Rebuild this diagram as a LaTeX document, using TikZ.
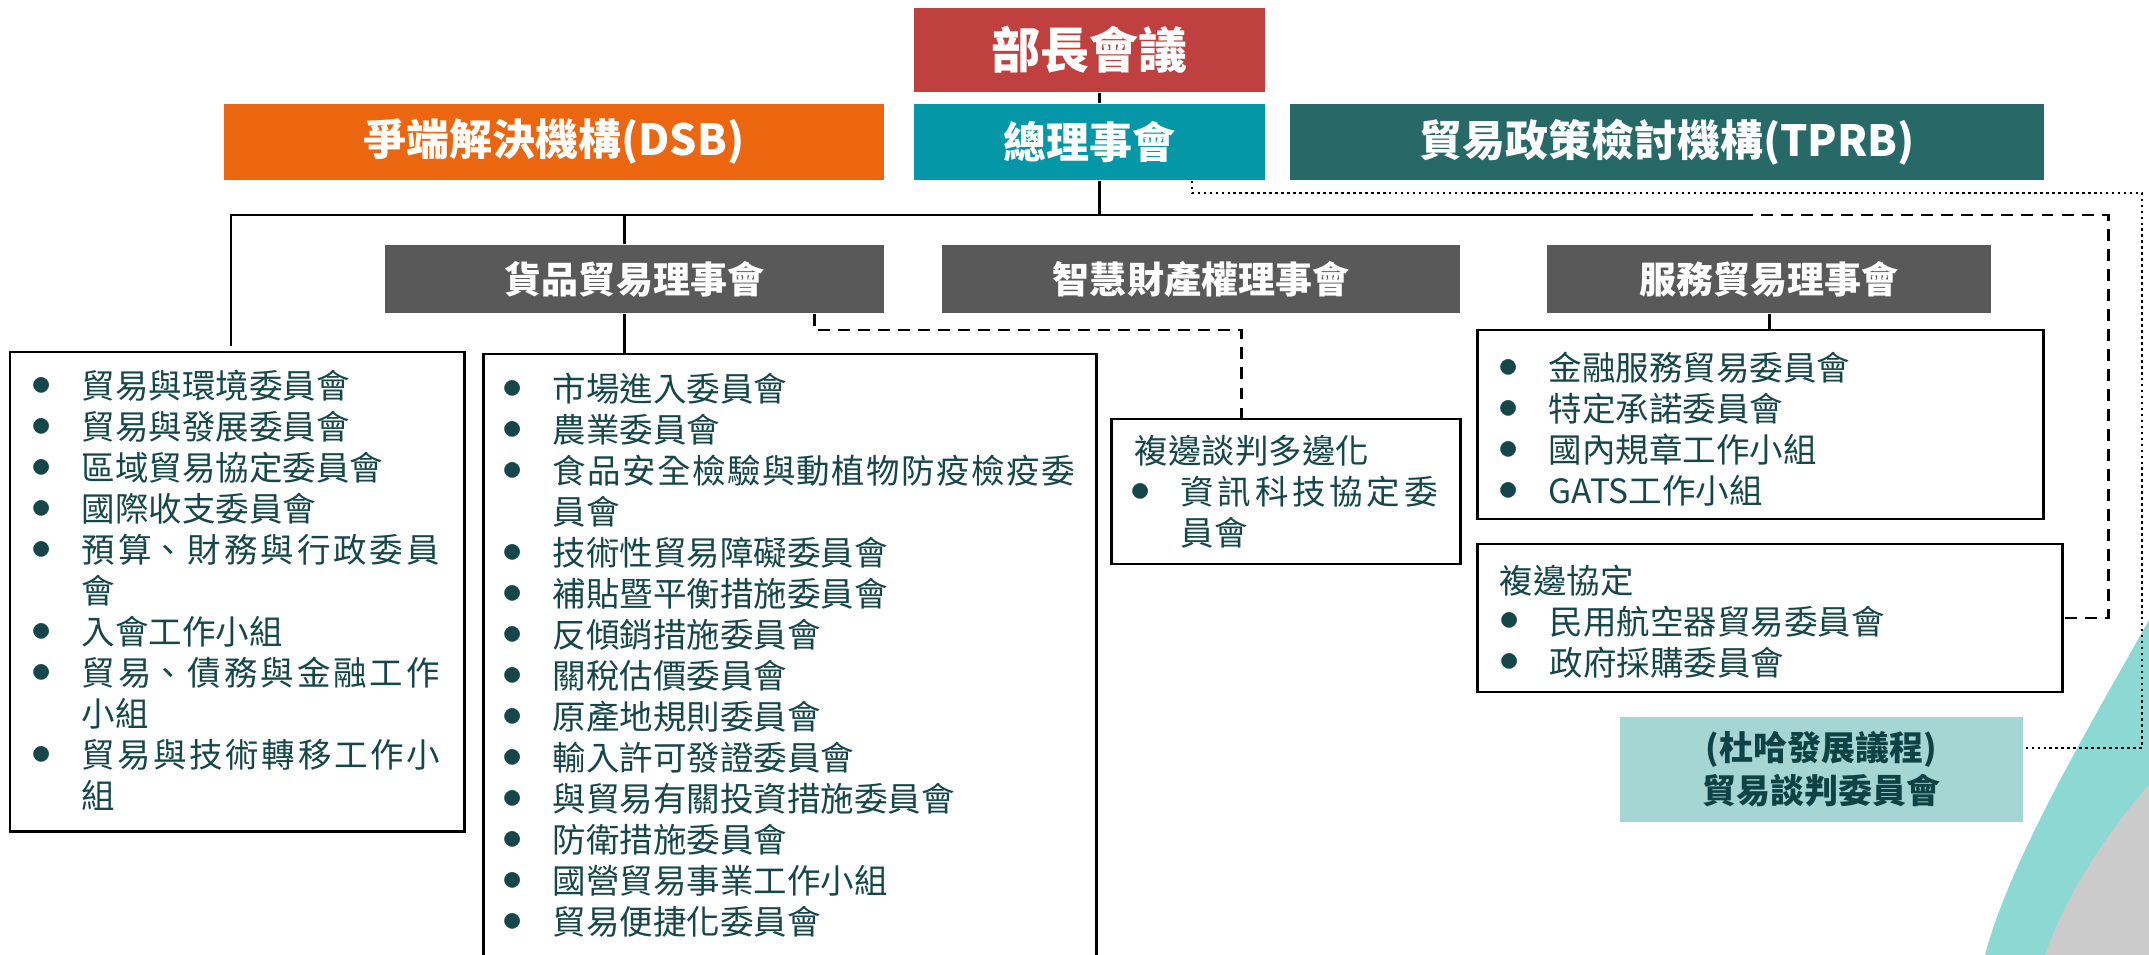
\documentclass[tikz,border=0pt]{standalone}
\usepackage{fontspec}
\setmainfont{Noto Sans CJK TC}
\usetikzlibrary{calc,fit}
\XeTeXlinebreaklocale "zh"
\XeTeXlinebreakskip=0pt plus 3pt
\tolerance=10000
\definecolor{wtored}{HTML}{C0403F}
\definecolor{wtoorange}{HTML}{EC6610}
\definecolor{wtoteal}{HTML}{0397A7}
\definecolor{wtodark}{HTML}{266966}
\definecolor{wtogray}{HTML}{595959}
\definecolor{wtodoha}{HTML}{A6D6D3}
\definecolor{wtolist}{HTML}{15474A}
\definecolor{wtodohatxt}{HTML}{0E4346}
\definecolor{decoteal}{HTML}{8CD9D4}
\definecolor{decogray}{HTML}{CBCBCB}
\newlength\itmind
\setlength\itmind{5mm}
\newcommand\itm[1]{\par\hangindent=\itmind\hangafter=1\noindent\makebox[\itmind][l]{\raisebox{0.1em}{\scalebox{1.15}{$\bullet$}}}#1}
\newcommand\nostretch{\XeTeXlinebreakskip=0pt\relax}

\begin{document}
\begin{tikzpicture}[x=0.1mm, y=-0.1mm,
  hdr/.style={fill=#1, inner sep=0pt},
  hdrtxt/.style={text=white, inner sep=0pt, font=\nostretch\fontsize{12.23}{14}\selectfont\bfseries},
  counciltxt/.style={hdrtxt, font=\nostretch\fontsize{10.53}{12}\selectfont\bfseries},
  lbox/.style={draw=black, line width=0.85pt, inner sep=0pt},
  ltxt/.style={anchor=north west, inner sep=0pt, align=justify, text=wtolist, font=\fontsize{9.53}{11.67}\selectfont},
  link/.style={line width=0.85pt},
  dlink/.style={link, dash pattern=on 3.4pt off 2.3pt},
  olink/.style={line width=0.8pt, dash pattern=on 0.75pt off 0.95pt}]
  \useasboundingbox (0,0) rectangle (2149,955);

  % corner decoration
  \fill[decoteal] (2149,620) .. controls (2090,725) and (2010,860) .. (1985,955) -- (2149,955) -- cycle;
  \fill[decogray] (2149,785) .. controls (2100,840) and (2062,905) .. (2045,955) -- (2149,955) -- cycle;

  % top row
  \node[hdr=wtored, fit={(914,8) (1265,92)}] (mc) {};
  \node[hdrtxt, font=\nostretch\fontsize{13.94}{16}\selectfont\bfseries] at (mc.center) {部長會議};
  \node[hdr=wtoorange, fit={(224,104) (884,180)}] (dsb) {};
  \node[hdrtxt] at (dsb.center) {爭端解決機構(DSB)};
  \node[hdr=wtoteal, fit={(914,104) (1265,180)}] (gc) {};
  \node[hdrtxt] at (gc.center) {總理事會};
  \node[hdr=wtodark, fit={(1290,104) (2044,180)}] (tprb) {};
  \node[hdrtxt] at (tprb.center) {貿易政策檢討機構(TPRB)};

  % councils
  \node[hdr=wtogray, fit={(385,245) (884,313)}] (goods) {};
  \node[counciltxt] at (goods.center) {貨品貿易理事會};
  \node[hdr=wtogray, fit={(942,245) (1460,313)}] (trips) {};
  \node[counciltxt] at (trips.center) {智慧財產權理事會};
  \node[hdr=wtogray, fit={(1547,245) (1991,313)}] (gats) {};
  \node[counciltxt] at (gats.center) {服務貿易理事會};

  % list boxes
  \node[lbox, fit={(10,352) (464,831)}] (gen) {};
  \node[lbox, fit={(483,354) (1096,965)}] (gds) {};
  \node[lbox, fit={(1111,419) (1460,564)}] (plur) {};
  \node[lbox, fit={(1477,330) (2043,519)}] (svc) {};
  \node[lbox, fit={(1477,544) (2062,692)}] (pl) {};
  \node[hdr=wtodoha, fit={(1620,717) (2023,822)}] (doha) {};
  \node[inner sep=0pt, align=center, text=wtodohatxt,
        font=\nostretch\fontsize{9.67}{12.23}\selectfont\bfseries] at (doha.center) {(杜哈發展議程)\\貿易談判委員會};

  \node[ltxt, text width=40.8mm] at (31,357) {%
    \itm{貿易與環境委員會}
    \itm{貿易與發展委員會}
    \itm{區域貿易協定委員會}
    \itm{國際收支委員會}
    \itm{預算、財務與行政委員會}
    \itm{入會工作小組}
    \itm{貿易、債務與金融工作小組}
    \itm{貿易與技術轉移工作小組}\par};
  \node[ltxt, text width=57.2mm] at (502,360) {%
    \itm{市場進入委員會}
    \itm{農業委員會}
    \itm{食品安全檢驗與動植物防疫檢疫委員會}
    \itm{技術性貿易障礙委員會}
    \itm{補貼暨平衡措施委員會}
    \itm{反傾銷措施委員會}
    \itm{關稅估價委員會}
    \itm{原產地規則委員會}
    \itm{輸入許可發證委員會}
    \itm{與貿易有關投資措施委員會}
    \itm{防衛措施委員會}
    \itm{國營貿易事業工作小組}
    \itm{貿易便捷化委員會}\par};
  \node[ltxt, text width=30.7mm] at (1130,435) {%
    \noindent\hspace{0.4mm}複邊談判多邊化
    \itm{資訊科技協定委員會}\par};
  \node[ltxt, text width=50mm] at (1498,339) {%
    \itm{金融服務貿易委員會}
    \itm{特定承諾委員會}
    \itm{國內規章工作小組}
    \itm{GATS工作小組}\par};
  \node[ltxt, text width=50mm] at (1499,564) {%
    \noindent 複邊協定
    \itm{民用航空器貿易委員會}
    \itm{政府採購委員會}\par};

  % connectors
  \coordinate (spine) at (1099,0);
  \coordinate (bus) at (231,215);
  \coordinate (busend) at (1741,215);
  \coordinate (busR) at (2108,215);
  \coordinate (gx) at (624,0);
  \draw[link] (mc.south -| spine) -- (gc.north -| spine);
  \draw[link] (gc.south -| spine) -- (spine |- bus);
  \draw[link] ($(gen.north -| bus)+(0,-5)$) -- (bus) -- (busend);
  \draw[dlink] (busend) -- (busR) -- (busR |- pl.east) -- (pl.east);
  \draw[link] (gx |- bus) -- (gx |- goods.north);
  \draw[link] (gx |- goods.south) -- (gx |- gds.north);
  \draw[link] (gats.south) -- (gats.south |- svc.north);

  \coordinate (dk) at (814,330);
  \coordinate (dk2) at (1241,330);
  \draw[dlink] (goods.south -| dk) -- (dk) -- (dk2) -- (dk2 |- plur.north);

  \coordinate (dt) at (1192,193);
  \coordinate (dr) at (2142,193);
  \coordinate (dr2) at (2142,748);
  \draw[olink] (gc.south -| dt) -- (dt) -- (dr) -- (dr2) -- (dr2 -| doha.east);
\end{tikzpicture}
\end{document}
